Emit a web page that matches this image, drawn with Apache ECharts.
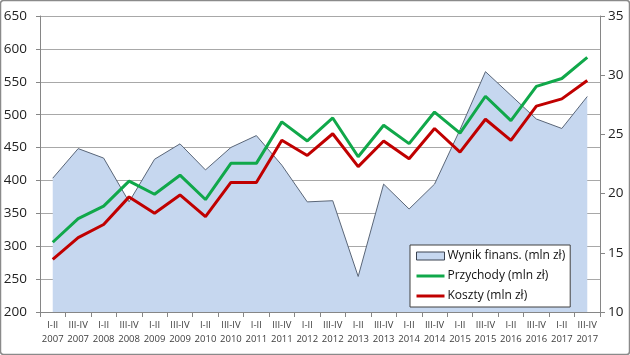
<!DOCTYPE html>
<html>
<head>
<meta charset="utf-8">
<script src="https://cdn.jsdelivr.net/npm/echarts@6/dist/echarts.min.js"></script>
<style>
html,body{margin:0;padding:0;background:#fff;}
#c{width:630px;height:355px;}
</style>
</head>
<body>
<div id="c"></div>
<script>
const periods = ['I-II','III-IV','I-II','III-IV','I-II','III-IV','I-II','III-IV','I-II','III-IV','I-II','III-IV','I-II','III-IV','I-II','III-IV','I-II','III-IV','I-II','III-IV','I-II','III-IV'];
const years = ['2007','2007','2008','2008','2009','2009','2010','2010','2011','2011','2012','2012','2013','2013','2014','2014','2015','2015','2016','2016','2017','2017'];
const wynik = [21.3, 23.8, 23.0, 19.3, 22.9, 24.2, 22.0, 23.9, 24.9, 22.4, 19.3, 19.4, 13.0, 20.8, 18.7, 20.8, 25.4, 30.3, 28.3, 26.3, 25.5, 28.2];
const przychody = [306, 342, 361, 399, 379, 408, 371, 426, 426, 489, 460, 495, 436, 484, 456, 504, 472, 528, 491, 543, 555, 587];
const koszty = [280, 313, 333, 375, 350, 378, 345, 397, 397, 461, 438, 471, 421, 460, 433, 479, 443, 493, 461, 513, 524, 552];
const seriesNames = ['Wynik finans. (mln zł)', 'Przychody (mln zł)', 'Koszty (mln zł)'];

const categories = periods.map((p, i) => p + '\n' + years[i]);
const FONT = '"Open Sans", "Liberation Sans", sans-serif';
const LINE_ICON = 'path://M0,0H28V3H0Z';

const chart = echarts.init(document.getElementById('c'), null, {renderer: 'canvas'});
chart.setOption({
  animation: false,
  backgroundColor: '#ffffff',
  textStyle: {fontFamily: FONT},
  graphic: [{
    type: 'rect', silent: true, z: 100,
    shape: {x: 0.5, y: 0.5, width: 629, height: 354, r: 3},
    style: {fill: 'none', stroke: '#8a8a8a', lineWidth: 1.5}
  }],
  grid: {left: 40, right: 30, top: 16, bottom: 43, containLabel: false},
  legend: {
    orient: 'vertical',
    left: 410, top: 245,
    backgroundColor: '#ffffff',
    borderColor: '#404040',
    borderWidth: 1,
    borderRadius: 0,
    padding: [3, 5, 3, 6],
    itemGap: 4,
    itemWidth: 28,
    itemHeight: 8,
    symbolKeepAspect: true,
    textStyle: {fontFamily: FONT, fontSize: 12, color: '#111', lineHeight: 16, padding: [0, 0, 0, -2]},
    data: [
      {name: seriesNames[0], icon: 'rect', itemStyle: {color: '#c6d7ef', borderColor: '#3a4250', borderWidth: 1}},
      {name: seriesNames[1], icon: LINE_ICON, itemStyle: {color: '#10a84a', borderWidth: 0}},
      {name: seriesNames[2], icon: LINE_ICON, itemStyle: {color: '#c00000', borderWidth: 0}}
    ]
  },
  xAxis: {
    type: 'category',
    data: categories,
    boundaryGap: true,
    axisLine: {lineStyle: {color: '#868686', width: 1}},
    axisTick: {show: true, interval: 0, length: 5, lineStyle: {color: '#868686'}},
    axisLabel: {interval: 0, fontFamily: FONT, fontSize: 9.5, color: '#404040', lineHeight: 14, margin: 6, hideOverlap: false}
  },
  yAxis: [{
    type: 'value', min: 200, max: 650, interval: 50,
    axisLine: {show: true, lineStyle: {color: '#868686'}},
    axisTick: {show: true, length: 4, lineStyle: {color: '#868686'}},
    axisLabel: {fontFamily: FONT, fontSize: 13.5, color: '#222', margin: 13},
    splitLine: {show: true, lineStyle: {color: '#a8a8a8', width: 1}}
  }, {
    type: 'value', min: 10, max: 35, interval: 5, position: 'right',
    axisLine: {show: true, lineStyle: {color: '#868686'}},
    axisTick: {show: true, length: 5, lineStyle: {color: '#868686'}},
    axisLabel: {fontFamily: FONT, fontSize: 13.5, color: '#222', margin: 8},
    splitLine: {show: false}
  }],
  series: [{
    name: seriesNames[0],
    type: 'line',
    yAxisIndex: 1,
    data: wynik,
    symbol: 'none',
    color: '#c6d7ef',
    lineStyle: {color: '#5a6678', width: 1},
    areaStyle: {color: '#c6d7ef', opacity: 1, origin: 'start'},
    z: 1
  }, {
    name: seriesNames[1],
    type: 'line',
    data: przychody,
    symbol: 'none',
    color: '#10a84a',
    lineStyle: {color: '#10a84a', width: 3},
    z: 3
  }, {
    name: seriesNames[2],
    type: 'line',
    data: koszty,
    symbol: 'none',
    color: '#c00000',
    lineStyle: {color: '#c00000', width: 3},
    z: 3
  }]
});
</script>
</body>
</html>
